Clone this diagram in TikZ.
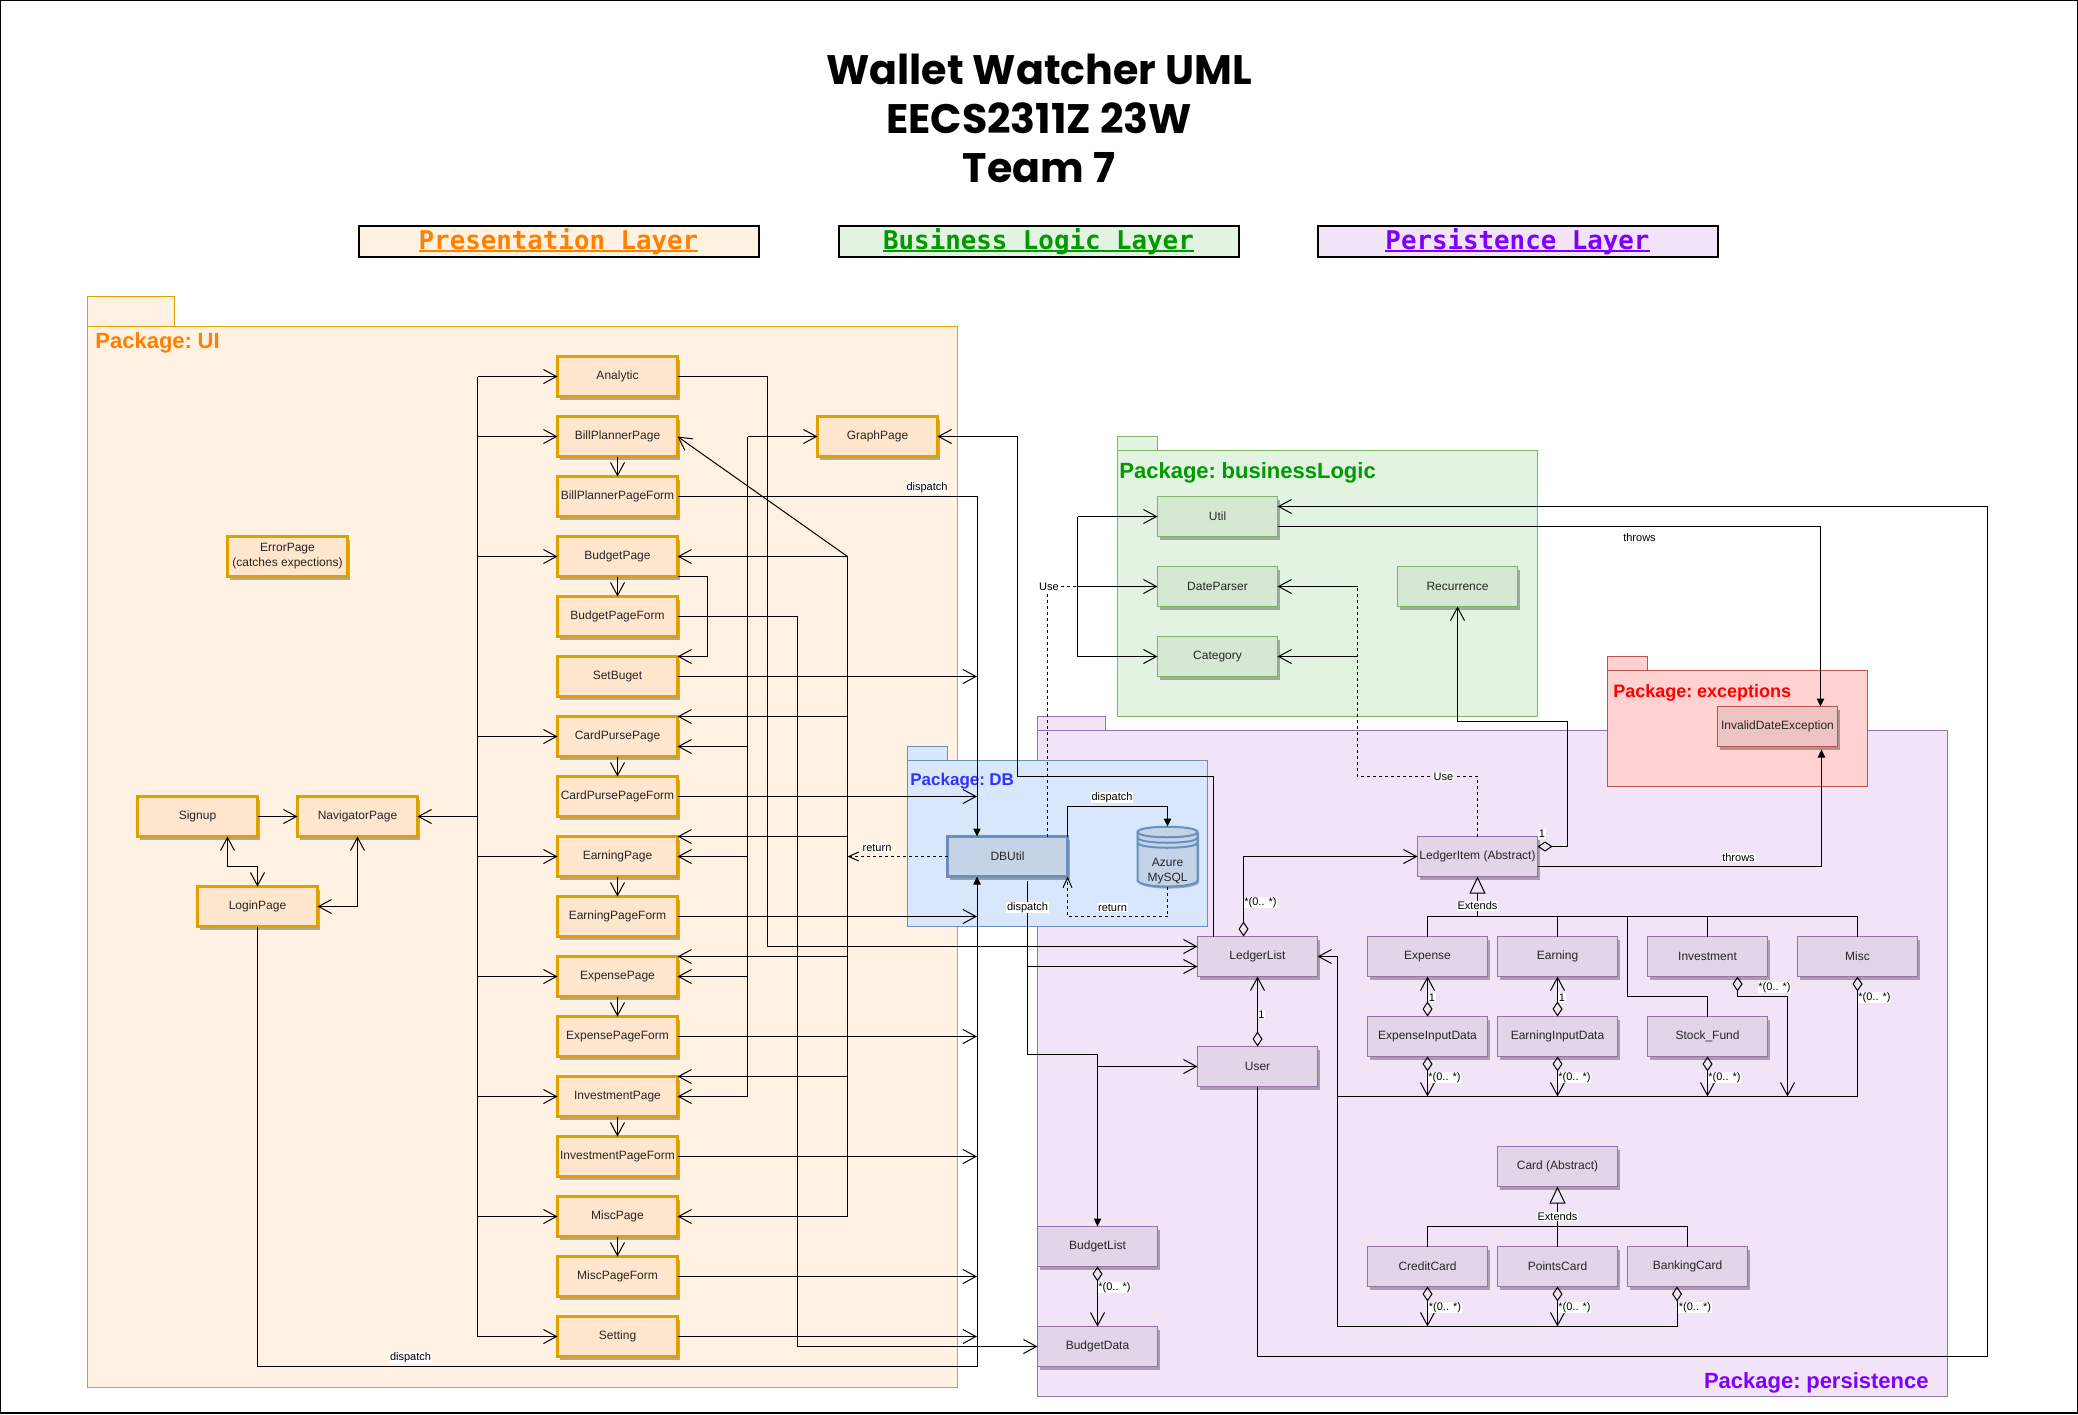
\documentclass[tikz,border=0pt]{standalone}
\usepackage{fontspec}
\setmainfont{Liberation Sans}
\newfontfamily\titlefont{Poppins}
\newfontfamily\layerfont{DejaVu Sans Mono}
\newfontfamily\pkgfont[WordSpace=0.6]{Liberation Sans}
\usetikzlibrary{arrows.meta}
\usetikzlibrary{shadows}
\definecolor{uifill}{HTML}{FFF2E3}
\definecolor{uibox}{HTML}{FFE6CC}
\definecolor{uistroke}{HTML}{DFA000}
\definecolor{uitext}{HTML}{FF8000}
\definecolor{logicfill}{HTML}{E2F4E1}
\definecolor{logicbox}{HTML}{D5E8D4}
\definecolor{logicstroke}{HTML}{82B366}
\definecolor{logictext}{HTML}{009900}
\definecolor{persistfill}{HTML}{F0E4F6}
\definecolor{persistbox}{HTML}{E1D5E7}
\definecolor{persiststroke}{HTML}{9673A6}
\definecolor{persisttext}{HTML}{7F00FF}
\definecolor{dbfill}{HTML}{D8E7FB}
\definecolor{dbbox}{HTML}{C5D3E6}
\definecolor{dbstroke}{HTML}{6C8EBF}
\definecolor{dbtext}{HTML}{3333FF}
\definecolor{errfill}{HTML}{FFD1D1}
\definecolor{errbox}{HTML}{EDC4C3}
\definecolor{errstroke}{HTML}{B85450}
\definecolor{errtext}{HTML}{FF0000}
\newlength\layerw
\newcommand\layertext[1]{\settowidth\layerw{#1}\rlap{#1}\rule[-1.3pt]{\layerw}{1pt}}
\tikzset{
	classbox/.style={rectangle, minimum width=60pt, minimum height=20pt, inner sep=0pt, outer sep=0pt, align=center, text=black!85,
		font=\fontsize{6}{7.5}\selectfont, drop shadow={shadow xshift=1.25pt, shadow yshift=-1.6pt, opacity=.3, fill=black}},
	pagebox/.style={classbox, draw=uistroke, fill=uibox, line width=1.5pt},
	logicbox/.style={classbox, draw=logicstroke, fill=logicbox, line width=.75pt},
	persistbox/.style={classbox, draw=persiststroke, fill=persistbox, line width=.75pt},
	errbox/.style={classbox, draw=errstroke, fill=errbox, line width=.75pt},
	dbbox/.style={classbox, draw=dbstroke, fill=dbbox, line width=1.25pt},
	pkgname/.style={anchor=west, inner sep=0pt, font=\fontsize{11}{11}\pkgfont\bfseries},
	layerbox/.style={rectangle, draw=black, line width=1pt, minimum width=200pt, minimum height=15.5pt, inner sep=0pt,
		text height=10.4pt, text depth=2.6pt, font=\fontsize{12.9}{14}\layerfont\bfseries},
	edgelabel/.style={fill=white, inner sep=.4pt, font=\fontsize{5.5}{6}\selectfont},
	openarrow/.style={line width=.5pt, -{Straight Barb[length=6.5pt, width=7pt]}},
	openboth/.style={line width=.5pt, {Straight Barb[length=6.5pt, width=7pt]}-{Straight Barb[length=6.5pt, width=7pt]}},
	filledarrow/.style={line width=.5pt, -{Triangle[length=4pt, width=3.7pt]}},
	plainline/.style={line width=.5pt},
	dashline/.style={line width=.5pt, dash pattern=on 1.5pt off 1.5pt},
	dashopen/.style={dashline, -{Straight Barb[length=5pt, width=4.5pt]}},
	aggrarrow/.style={line width=.5pt, {Diamond[open, length=7.5pt, width=5pt]}-{Straight Barb[length=6.5pt, width=7pt]}},
	aggrline/.style={line width=.5pt, {Diamond[open, length=7.5pt, width=5pt]}-},
	extendsline/.style={line width=.5pt, {Triangle[open, length=8.5pt, width=8pt]}-}
}
\begin{document}
\begin{tikzpicture}[x=0.5pt, y=-0.5pt]
	\useasboundingbox (0,0) rectangle (2078,1414);
	\draw[black, line width=.75pt] (.5,.5) rectangle (2077.5,1413);

	\node[font=\fontsize{20.6}{24.5}\titlefont\bfseries, align=center, inner sep=0pt] (title) at (1039,118) {Wallet Watcher UML\\EECS2311Z 23W\\Team 7};
	\node[layerbox, fill=uifill, text=uitext] (layerui) at (558.5,241.5) {\layertext{Presentation Layer}};
	\node[layerbox, fill=logicfill, text=logictext] (layerlogic) at (1038.5,241.5) {\layertext{Business Logic Layer}};
	\node[layerbox, fill=persistfill, text=persisttext] (layerpersist) at (1517.5,241.5) {\layertext{Persistence Layer}};

	\draw[draw=uistroke, fill=uifill, line width=.5pt] (87.5,296.5) rectangle (174.5,326.5);
	\draw[draw=uistroke, fill=uifill, line width=.5pt] (87.5,326.5) rectangle (957.5,1387);
	\node[pkgname, text=uitext] (pkgui) at (95,342.5) {Package: UI};
	\draw[draw=persiststroke, fill=persistfill, line width=.5pt] (1037.5,716.5) rectangle (1105.5,730.5);
	\draw[draw=persiststroke, fill=persistfill, line width=.5pt] (1037.5,730.5) rectangle (1947.5,1396.5);
	\node[pkgname, anchor=east, text=persisttext] (pkgpersist) at (1929,1382.5) {Package: persistence};
	\draw[draw=logicstroke, fill=logicfill, line width=.5pt] (1117.5,436.5) rectangle (1157.5,450.5);
	\draw[draw=logicstroke, fill=logicfill, line width=.5pt] (1117.5,450.5) rectangle (1537.5,716.5);
	\node[pkgname, text=logictext] (pkglogic) at (1119,472.5) {Package: businessLogic};
	\draw[draw=errstroke, fill=errfill, line width=.5pt] (1607.5,656.5) rectangle (1647.5,670.5);
	\draw[draw=errstroke, fill=errfill, line width=.5pt] (1607.5,670.5) rectangle (1867.5,786.5);
	\node[pkgname, font=\fontsize{9}{9}\pkgfont\bfseries, text=errtext] (pkgerr) at (1613,692.5) {Package: exceptions};
	\draw[draw=dbstroke, fill=dbfill, line width=.5pt] (907.5,746.5) rectangle (947.5,760.5);
	\draw[draw=dbstroke, fill=dbfill, line width=.5pt] (907.5,760.5) rectangle (1207.5,926.5);
	\node[pkgname, font=\fontsize{8.5}{9}\pkgfont\bfseries, text=dbtext] (pkgdb) at (910,781.5) {Package: DB};

	\node[pagebox] (analytic) at (617.5,376.5) {Analytic};
	\node[pagebox] (billplanner) at (617.5,436.5) {BillPlannerPage};
	\node[pagebox] (billform) at (617.5,496.5) {BillPlannerPageForm};
	\node[pagebox] (budget) at (617.5,556.5) {BudgetPage};
	\node[pagebox] (budgetform) at (617.5,616.5) {BudgetPageForm};
	\node[pagebox] (setbuget) at (617.5,676.5) {SetBuget};
	\node[pagebox] (cardpurse) at (617.5,736.5) {CardPursePage};
	\node[pagebox] (cardform) at (617.5,796.5) {CardPursePageForm};
	\node[pagebox] (earning) at (617.5,856.5) {EarningPage};
	\node[pagebox] (earningform) at (617.5,916.5) {EarningPageForm};
	\node[pagebox] (expense) at (617.5,976.5) {ExpensePage};
	\node[pagebox] (expenseform) at (617.5,1036.5) {ExpensePageForm};
	\node[pagebox] (investment) at (617.5,1096.5) {InvestmentPage};
	\node[pagebox] (investmentform) at (617.5,1156.5) {InvestmentPageForm};
	\node[pagebox] (misc) at (617.5,1216.5) {MiscPage};
	\node[pagebox] (miscform) at (617.5,1276.5) {MiscPageForm};
	\node[pagebox] (setting) at (617.5,1336.5) {Setting};
	\node[pagebox] (graph) at (877.5,436.5) {GraphPage};
	\node[pagebox] (errorpage) at (287.5,556.5) {ErrorPage\\(catches expections)};
	\node[pagebox] (signup) at (197.5,816.5) {Signup};
	\node[pagebox] (navigator) at (357.5,816.5) {NavigatorPage};
	\node[pagebox] (login) at (257.5,906.5) {LoginPage};

	\node[logicbox] (util) at (1217.5,516.5) {Util};
	\node[logicbox] (dateparser) at (1217.5,586.5) {DateParser};
	\node[logicbox] (category) at (1217.5,656.5) {Category};
	\node[logicbox] (recurrence) at (1457.5,586.5) {Recurrence};
	\node[errbox] (invalid) at (1777.5,726.5) {InvalidDateException};

	\node[dbbox] (dbutil) at (1007.5,856.5) {DBUtil};
	\draw[draw=dbstroke, fill=dbbox, line width=1pt, drop shadow={shadow xshift=.75pt, shadow yshift=-1pt, opacity=.3, fill=black}]
		(1137.5,832) .. controls (1137.5,825) and (1197.5,825) .. (1197.5,832) -- (1197.5,880) .. controls (1197.5,888.7) and (1137.5,888.7) .. (1137.5,880) -- cycle;
	\draw[draw=dbstroke, line width=1pt] (1137.5,832) .. controls (1137.5,839) and (1197.5,839) .. (1197.5,832);
	\draw[draw=dbstroke, line width=1pt] (1137.5,837.5) .. controls (1137.5,844.5) and (1197.5,844.5) .. (1197.5,837.5);
	\draw[draw=dbstroke, line width=1pt] (1137.5,842.5) .. controls (1137.5,849.5) and (1197.5,849.5) .. (1197.5,842.5);
	\node[rectangle, minimum width=30pt, minimum height=30pt, inner sep=0pt, outer sep=0pt] (azure) at (1167.5,856.5) {};
	\node[align=center, inner sep=0pt, text=black!85, font=\fontsize{6}{7.5}\selectfont] (azuretext) at (1167.5,871) {Azure\\MySQL};

	\node[persistbox] (ledgeritem) at (1477.5,856.5) {LedgerItem (Abstract)};
	\node[persistbox] (ledgerlist) at (1257.5,956.5) {LedgerList};
	\node[persistbox] (user) at (1257.5,1066.5) {User};
	\node[persistbox] (expensecls) at (1427.5,956.5) {Expense};
	\node[persistbox] (earningcls) at (1557.5,956.5) {Earning};
	\node[persistbox] (investmentcls) at (1707.5,956.5) {Investment};
	\node[persistbox] (misccls) at (1857.5,956.5) {Misc};
	\node[persistbox] (expenseinput) at (1427.5,1036.5) {ExpenseInputData};
	\node[persistbox] (earninginput) at (1557.5,1036.5) {EarningInputData};
	\node[persistbox] (stockfund) at (1707.5,1036.5) {Stock\_Fund};
	\node[persistbox] (card) at (1557.5,1166.5) {Card (Abstract)};
	\node[persistbox] (creditcard) at (1427.5,1266.5) {CreditCard};
	\node[persistbox] (pointscard) at (1557.5,1266.5) {PointsCard};
	\node[persistbox] (bankingcard) at (1687.5,1266.5) {BankingCard};
	\node[persistbox] (budgetlist) at (1097.5,1246.5) {BudgetList};
	\node[persistbox] (budgetdata) at (1097.5,1346.5) {BudgetData};

	\coordinate (busnav) at (477.5,816.5);
	\coordinate (busgraph) at (747.5,436.5);
	\coordinate (busanalytic) at (767.5,946.5);
	\coordinate (busform) at (797.5,1346.5);
	\coordinate (buspage) at (847.5,556.5);
	\coordinate (dbin) at ([xshift=-15.25pt]dbutil.north);
	\coordinate (dbinlow) at ([xshift=-15.25pt]dbutil.south);
	\coordinate (cardlow) at ([yshift=-5pt]cardpurse.east);
	\coordinate (loginturn) at (257.5,1366.5);
	\coordinate (signupturn) at (257.5,866.5);
	\coordinate (graphturn) at (1017.5,776.5);
	\coordinate (graphleft) at (1017.5,436.5);
	\coordinate (bususe) at (1077.5,586.5);
	\coordinate (usebus) at (1357.5,776.5);
	\coordinate (usetop) at (1357.5,586.5);
	\coordinate (utilhigh) at ([yshift=5pt]util.east);
	\coordinate (utillow) at ([yshift=-5pt]util.east);
	\coordinate (userturn) at (1987.5,1356.5);
	\coordinate (itemhigh) at ([yshift=5pt]ledgeritem.east);
	\coordinate (itemlow) at ([yshift=-5pt]ledgeritem.east);
	\coordinate (itemturn) at (1567.5,721.5);
	\coordinate (dbcolumn) at ([xshift=10pt,yshift=-2pt]dbutil.south);
	\coordinate (dbturn) at (1097.5,1054.5);
	\coordinate (dbup) at (1167.5,806.5);
	\coordinate (dbreturn) at (1067.5,916.5);
	\coordinate (ledgerhigh) at ([yshift=5pt]ledgerlist.west);
	\coordinate (ledgerlow) at ([yshift=-5pt]ledgerlist.west);
	\coordinate (busextends) at (1477.5,916.5);
	\coordinate (stockturn) at (1627.5,996.5);
	\coordinate (investturn) at (1787.5,996.5);
	\coordinate (busledger) at (1337.5,1096.5);
	\coordinate (busledgerlow) at (1337.5,1326.5);
	\coordinate (buscard) at (1557.5,1226.5);

	\draw[plainline] (analytic.west -| busnav) -- (setting.west -| busnav);
	\draw[openarrow] (busnav) -- (navigator.east);
	\foreach \p in {analytic,billplanner,budget,cardpurse,earning,expense,investment,misc,setting}
		\draw[openarrow] (\p.west -| busnav) -- (\p.west);
	\foreach \p/\f in {billplanner/billform,budget/budgetform,cardpurse/cardform,earning/earningform,expense/expenseform,investment/investmentform,misc/miscform}
		\draw[openarrow] (\p.south) -- (\f.north);
	\foreach \f in {setbuget,cardform,earningform,expenseform,investmentform,miscform,setting}
		\draw[openarrow] (\f.east) -- (\f.east -| dbin);

	\draw[plainline] (busgraph) -- (investment.east -| busgraph);
	\draw[openarrow] (busgraph) -- (graph.west);
	\foreach \t in {cardlow,earning.east,expense.east,investment.east}
		\draw[openarrow] (\t -| busgraph) -- (\t);
	\draw[plainline] (buspage) -- (misc.east -| buspage);
	\foreach \t in {budget.east,cardpurse.north east,earning.north east,expense.north east,investment.north east,misc.east}
		\draw[openarrow] (\t -| buspage) -- (\t);
	\draw[openarrow] (buspage) -- (billplanner.east);
	\draw[dashopen] (dbutil.west) -- (dbutil.west -| buspage);

	\draw[openarrow] (analytic.east) -| (busanalytic) -- (ledgerhigh);
	\draw[openarrow] (budgetform.east) -| (busform) -- (budgetdata.west);
	\draw[openarrow] (budget.south east) -- ++(29.5,0) |- (setbuget.north east);
	\draw[filledarrow] (billform.east) -| (dbin);
	\draw[filledarrow] (login.south) -- (loginturn) -| (dbinlow);
	\draw[openarrow] (signup.east) -- (navigator.west);
	\draw[openboth] ([xshift=15pt]signup.south) |- (signupturn) -- (login.north);
	\draw[openboth] (navigator.south) |- (login.east);
	\draw[openarrow] ([xshift=-22pt]ledgerlist.north) |- (graphturn) -- (graphleft) -- (graph.east);

	\draw[dashline] ([xshift=19.75pt]dbutil.north) |- (bususe);
	\draw[plainline] (util.west -| bususe) -- (category.west -| bususe);
	\foreach \t in {util,dateparser,category}
		\draw[openarrow] (\t.west -| bususe) -- (\t.west);
	\draw[dashline] (ledgeritem.north) |- (usebus) -- (usetop);
	\draw[openarrow] (usetop) -- (dateparser.east);
	\draw[openarrow] (category.east -| usetop) -- (category.east);

	\draw[filledarrow] (dbutil.north east) |- (dbup) -- (azure.north);
	\draw[dashopen] (azure.south) |- (dbreturn) -- (dbutil.south east);
	\draw[filledarrow] (dbcolumn) |- (dbturn) -- (budgetlist.north);
	\draw[openarrow] (user.west -| budgetlist) -- (user.west);
	\draw[openarrow] (ledgerlow -| dbcolumn) -- (ledgerlow);

	\draw[aggrarrow] (user.north) -- (ledgerlist.south);
	\draw[aggrarrow] ([xshift=-7pt]ledgerlist.north) |- (ledgeritem.west);
	\draw[openarrow] (user.south) |- (userturn) |- (utilhigh);
	\draw[filledarrow] (utillow) -| ([xshift=21.5pt]invalid.north);
	\draw[filledarrow] (itemlow) -| ([xshift=22pt,yshift=-1.5pt]invalid.south);
	\draw[aggrarrow] (itemhigh) -| (itemturn) -| (recurrence.south);

	\draw[extendsline] (ledgeritem.south) -- (busextends);
	\draw[plainline] (expensecls.north) |- (busextends) -| (misccls.north);
	\draw[plainline] (earningcls.north) -- (earningcls.north |- busextends);
	\draw[plainline] (investmentcls.north) -- (investmentcls.north |- busextends);
	\draw[plainline] (stockfund.north) |- (stockturn) -- (stockturn |- busextends);
	\draw[aggrarrow] (expenseinput.north) -- (expensecls.south);
	\draw[aggrarrow] (earninginput.north) -- (earningcls.south);
	\foreach \t in {expenseinput,earninginput,stockfund}
		\draw[aggrarrow] (\t.south) -- (\t.south |- busledger);
	\draw[aggrline] ([xshift=15pt]investmentcls.south) |- (investturn);
	\draw[openarrow] (investturn) -- (investturn |- busledger);
	\draw[aggrline] (misccls.south) |- (busledger);
	\draw[openarrow] (busledgerlow) |- (ledgerlist.east);

	\draw[extendsline] (card.south) -- (buscard);
	\draw[plainline] (creditcard.north) |- (buscard) -| (bankingcard.north);
	\draw[plainline] (pointscard.north) -- (buscard);
	\draw[aggrarrow] (creditcard.south) -- (creditcard.south |- busledgerlow);
	\draw[aggrarrow] (pointscard.south) -- (pointscard.south |- busledgerlow);
	\draw[aggrline] ([xshift=-5.25pt]bankingcard.south) |- (busledgerlow);
	\draw[aggrarrow] (budgetlist.south) -- (budgetdata.north);

	\node[edgelabel] (lblbill) at (927,488) {dispatch};
	\node[edgelabel] (lblreturn) at (877,847.5) {return};
	\node[edgelabel] (lbllogin) at (410.5,1357.5) {dispatch};
	\node[edgelabel] (lbluse) at (1049,586.5) {Use};
	\node[edgelabel] (lblthrowutil) at (1639.5,537.5) {throws};
	\node[edgelabel] (lbluseitem) at (1443.5,776.5) {Use};
	\node[edgelabel] (lblazure) at (1112,797.5) {dispatch};
	\node[edgelabel] (lblazureback) at (1112.5,907.5) {return};
	\node[edgelabel] (lbldb) at (1027.5,907.5) {dispatch};
	\node[edgelabel] (lblmanyitem) at (1260.5,902.5) {*(0.. *)};
	\node[edgelabel] (lbloneuser) at (1261.5,1014.5) {1};
	\node[edgelabel] (lbloneitem) at (1542,834) {1};
	\node[edgelabel] (lblextends) at (1477.5,906) {Extends};
	\node[edgelabel] (lblextendscard) at (1557.5,1216.5) {Extends};
	\node[edgelabel] (lbloneexpense) at (1432,997.5) {1};
	\node[edgelabel] (lbloneearning) at (1562,997.5) {1};
	\node[edgelabel] (lblmanyexpense) at (1444.5,1077.5) {*(0.. *)};
	\node[edgelabel] (lblmanyearning) at (1574.5,1077.5) {*(0.. *)};
	\node[edgelabel] (lblmanystock) at (1724.5,1077.5) {*(0.. *)};
	\node[edgelabel] (lblmanyinvest) at (1774.5,987.5) {*(0.. *)};
	\node[edgelabel] (lblmanymisc) at (1874.5,997.5) {*(0.. *)};
	\node[edgelabel] (lblmanycredit) at (1445,1307.5) {*(0.. *)};
	\node[edgelabel] (lblmanypoints) at (1574.5,1307.5) {*(0.. *)};
	\node[edgelabel] (lblmanybank) at (1695,1307.5) {*(0.. *)};
	\node[edgelabel] (lblmanybudget) at (1114.5,1287.5) {*(0.. *)};
	\node[edgelabel] (lblthrowitem) at (1738.5,857.5) {throws};
\end{tikzpicture}
\end{document}
